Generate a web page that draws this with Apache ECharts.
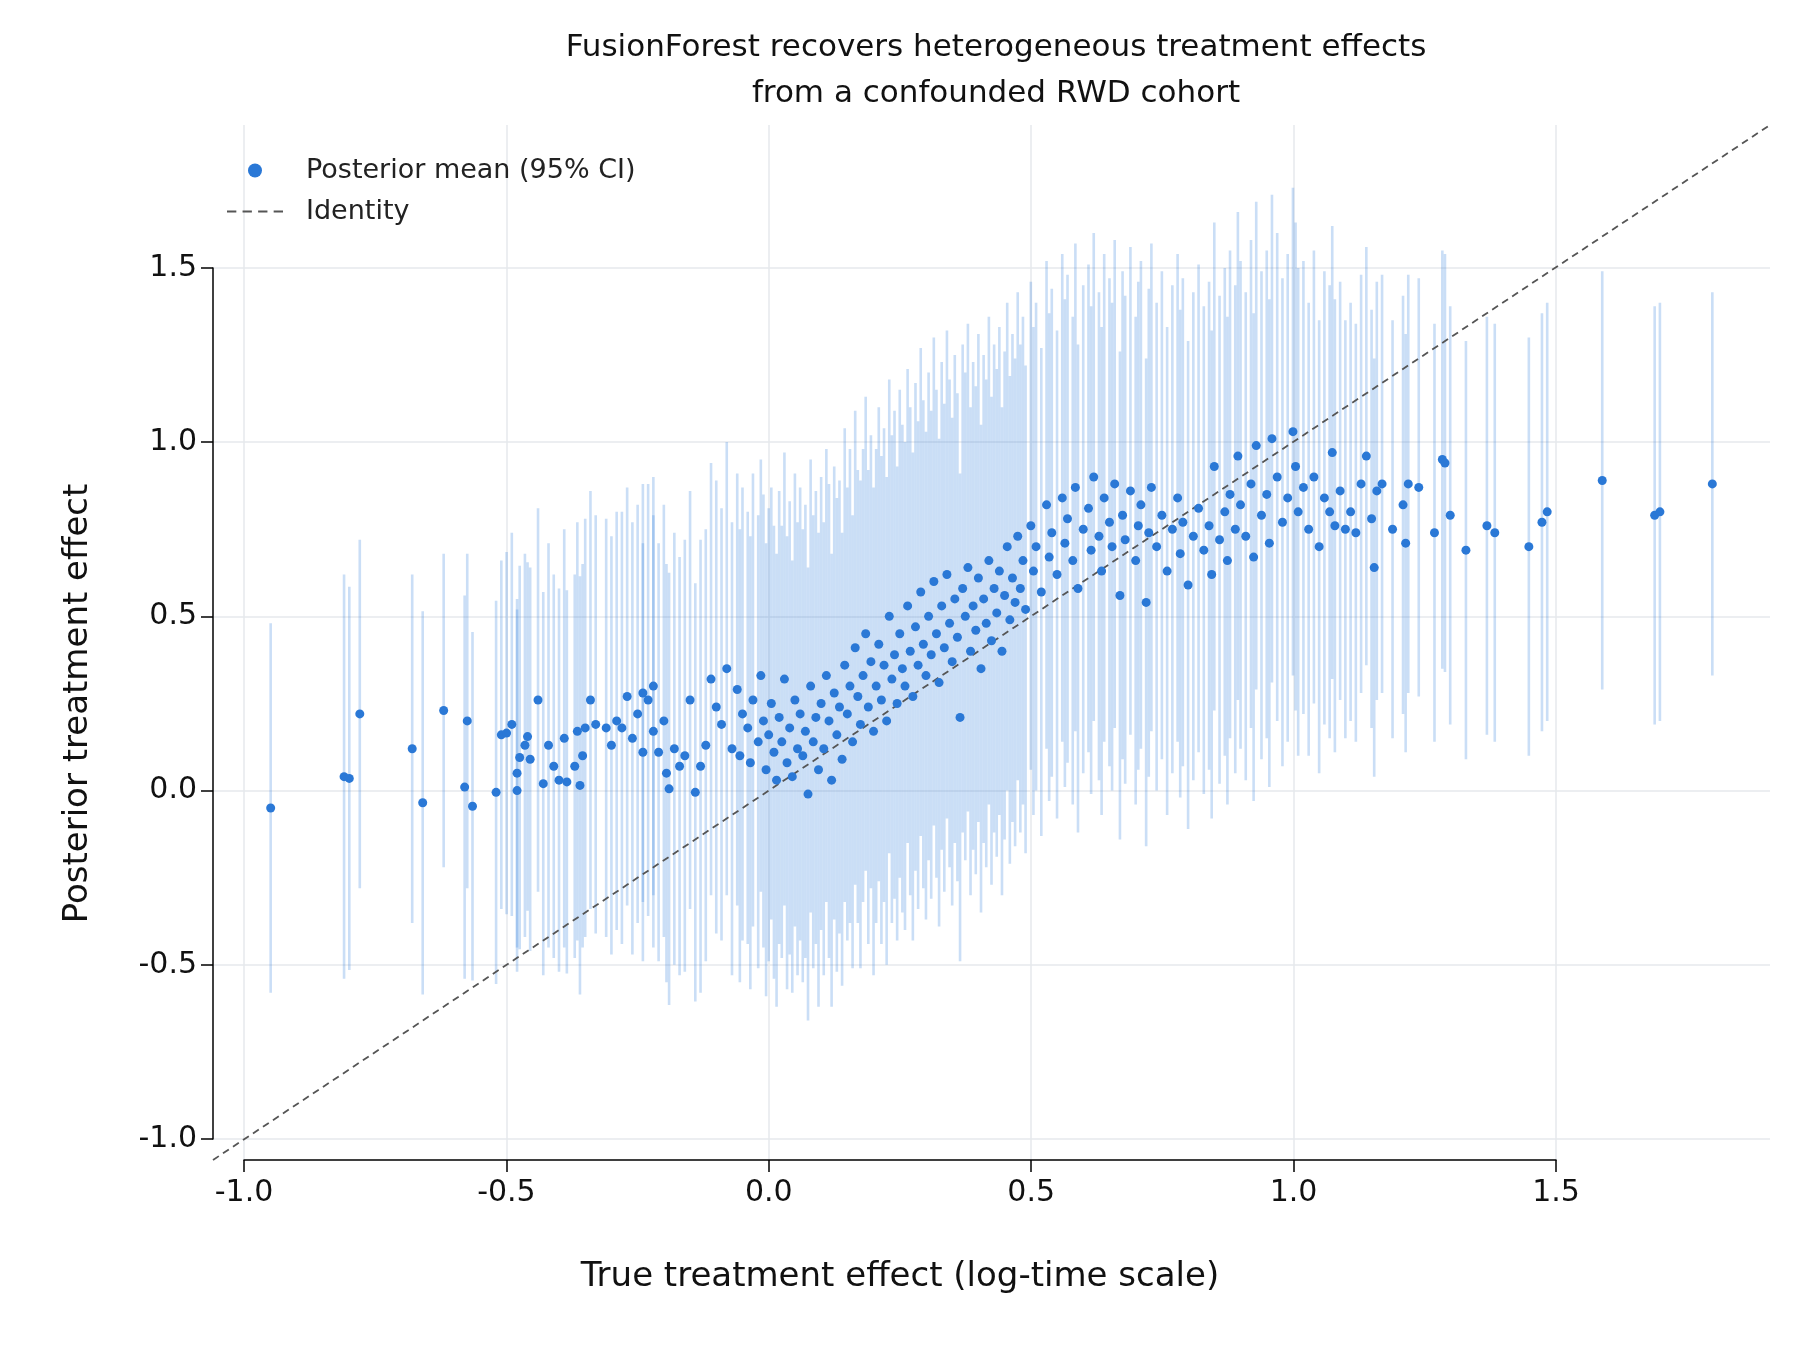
<!DOCTYPE html>
<html><head><meta charset="utf-8">
<script src="https://cdn.jsdelivr.net/npm/echarts@6/dist/echarts.min.js"></script>
<style>html,body{margin:0;padding:0;background:#fff}#c{width:1800px;height:1350px}</style>
</head><body><div id="c"></div>
<script>
const trueEffect = [
-0.95,-0.81,-0.80,-0.78,-0.68,-0.66,-0.62,-0.58,-0.575,-0.565,
-0.52,-0.51,-0.50,-0.49,-0.48,-0.48,-0.475,-0.465,-0.46,-0.455,
-0.44,-0.43,-0.42,-0.41,-0.40,-0.39,-0.385,-0.37,-0.365,-0.36,
-0.355,-0.35,-0.34,-0.33,-0.31,-0.30,-0.29,-0.28,-0.27,-0.26,
-0.25,-0.24,-0.24,-0.23,-0.22,-0.22,-0.21,-0.20,-0.195,-0.19,
-0.18,-0.17,-0.16,-0.15,-0.14,-0.13,-0.12,-0.11,-0.10,-0.09,
-0.08,-0.07,-0.06,-0.055,-0.05,-0.04,-0.035,-0.03,-0.02,-0.015,
-0.01,-0.005,0.0,0.005,0.01,0.015,0.02,0.025,0.03,0.035,
0.04,0.045,0.05,0.055,0.06,0.065,0.07,0.075,0.08,0.085,
0.09,0.095,0.10,0.105,0.11,0.115,0.12,0.125,0.13,0.135,
0.14,0.145,0.15,0.155,0.16,0.165,0.17,0.175,0.18,0.185,
0.19,0.195,0.20,0.205,0.21,0.215,0.22,0.225,0.23,0.235,
0.24,0.245,0.25,0.255,0.26,0.265,0.27,0.275,0.28,0.285,
0.29,0.295,0.30,0.305,0.31,0.315,0.32,0.325,0.33,0.335,
0.34,0.345,0.35,0.355,0.36,0.365,0.37,0.375,0.38,0.385,
0.39,0.395,0.40,0.405,0.41,0.415,0.42,0.425,0.43,0.435,
0.44,0.445,0.45,0.455,0.46,0.465,0.47,0.475,0.48,0.485,
0.49,0.50,0.505,0.51,0.52,0.53,0.535,0.54,0.55,0.56,
0.565,0.57,0.58,0.585,0.59,0.60,0.61,0.615,0.62,0.63,
0.635,0.64,0.65,0.655,0.66,0.67,0.675,0.68,0.69,0.70,
0.705,0.71,0.72,0.725,0.73,0.74,0.75,0.76,0.77,0.78,
0.785,0.79,0.80,0.81,0.82,0.83,0.84,0.845,0.85,0.86,
0.87,0.875,0.88,0.89,0.895,0.90,0.91,0.92,0.925,0.93,
0.94,0.95,0.955,0.96,0.97,0.98,0.99,1.0,1.005,1.01,
1.02,1.03,1.04,1.05,1.06,1.07,1.075,1.08,1.09,1.10,
1.11,1.12,1.13,1.14,1.15,1.155,1.16,1.17,1.19,1.21,
1.215,1.22,1.24,1.27,1.285,1.29,1.30,1.33,1.37,1.385,
1.45,1.475,1.485,1.59,1.69,1.70,1.80];
const posteriorMean = [
-0.05,0.04,0.035,0.22,0.12,-0.035,0.23,0.01,0.20,-0.045,
-0.005,0.16,0.165,0.19,0.05,0.0,0.095,0.13,0.155,0.09,
0.26,0.02,0.13,0.07,0.03,0.15,0.025,0.07,0.17,0.015,
0.10,0.18,0.26,0.19,0.18,0.13,0.20,0.18,0.27,0.15,
0.22,0.28,0.11,0.26,0.30,0.17,0.11,0.20,0.05,0.005,
0.12,0.07,0.10,0.26,-0.005,0.07,0.13,0.32,0.24,0.19,
0.35,0.12,0.29,0.10,0.22,0.18,0.08,0.26,0.14,0.33,
0.20,0.06,0.16,0.25,0.11,0.03,0.21,0.14,0.32,0.08,
0.18,0.04,0.26,0.12,0.22,0.10,0.17,-0.01,0.30,0.14,
0.21,0.06,0.25,0.12,0.33,0.20,0.03,0.28,0.16,0.24,
0.09,0.36,0.22,0.30,0.14,0.41,0.27,0.19,0.33,0.45,
0.24,0.37,0.17,0.30,0.42,0.26,0.36,0.20,0.50,0.32,
0.39,0.25,0.45,0.35,0.30,0.53,0.40,0.27,0.47,0.36,
0.57,0.42,0.33,0.50,0.39,0.60,0.45,0.31,0.53,0.41,
0.62,0.48,0.37,0.55,0.44,0.21,0.58,0.50,0.64,0.40,
0.53,0.46,0.61,0.35,0.55,0.48,0.66,0.43,0.58,0.51,
0.63,0.40,0.56,0.70,0.49,0.61,0.54,0.73,0.58,0.66,
0.52,0.76,0.63,0.70,0.57,0.82,0.67,0.74,0.62,0.84,
0.71,0.78,0.66,0.87,0.58,0.75,0.81,0.69,0.90,0.73,
0.63,0.84,0.77,0.70,0.88,0.56,0.79,0.72,0.86,0.66,
0.76,0.82,0.54,0.74,0.87,0.70,0.79,0.63,0.75,0.84,
0.68,0.77,0.59,0.73,0.81,0.69,0.76,0.62,0.93,0.72,
0.80,0.66,0.85,0.75,0.96,0.82,0.73,0.88,0.67,0.99,
0.79,0.85,0.71,1.01,0.90,0.77,0.84,1.03,0.93,0.80,
0.87,0.75,0.90,0.70,0.84,0.80,0.97,0.76,0.86,0.75,
0.80,0.74,0.88,0.96,0.78,0.64,0.86,0.88,0.75,0.82,
0.71,0.88,0.87,0.74,0.95,0.94,0.79,0.69,0.76,0.74,
0.70,0.77,0.80,0.89,0.79,0.80,0.88];
const ciHalfWidth = [
0.53,0.58,0.55,0.50,0.50,0.55,0.45,0.55,0.48,0.50,
0.55,0.50,0.52,0.55,0.50,0.52,0.55,0.55,0.50,0.55,
0.55,0.55,0.58,0.55,0.55,0.60,0.55,0.55,0.60,0.60,
0.55,0.60,0.60,0.60,0.60,0.60,0.60,0.62,0.60,0.62,
0.60,0.60,0.60,0.62,0.60,0.62,0.60,0.62,0.60,0.62,
0.62,0.60,0.62,0.60,0.60,0.65,0.62,0.62,0.65,0.62,
0.65,0.65,0.62,0.65,0.65,0.62,0.65,0.65,0.65,0.62,
0.65,0.65,0.65,0.62,0.65,0.65,0.65,0.62,0.65,0.65,
0.65,0.62,0.65,0.65,0.65,0.65,0.65,0.65,0.65,0.65,
0.65,0.68,0.65,0.65,0.65,0.68,0.65,0.65,0.68,0.65,
0.65,0.68,0.65,0.68,0.65,0.68,0.65,0.70,0.65,0.68,
0.68,0.65,0.70,0.68,0.68,0.70,0.68,0.70,0.68,0.70,
0.70,0.68,0.70,0.70,0.70,0.68,0.70,0.70,0.70,0.70,
0.70,0.70,0.70,0.70,0.70,0.70,0.70,0.70,0.70,0.70,
0.70,0.70,0.70,0.70,0.70,0.70,0.70,0.70,0.70,0.70,
0.70,0.70,0.70,0.70,0.70,0.70,0.70,0.70,0.70,0.70,
0.70,0.70,0.70,0.70,0.70,0.70,0.70,0.70,0.70,0.70,
0.70,0.70,0.70,0.70,0.70,0.70,0.70,0.70,0.70,0.70,
0.70,0.70,0.70,0.70,0.70,0.70,0.70,0.70,0.70,0.70,
0.70,0.70,0.70,0.70,0.70,0.70,0.70,0.70,0.70,0.70,
0.70,0.70,0.70,0.70,0.70,0.70,0.70,0.70,0.70,0.70,
0.70,0.70,0.70,0.70,0.70,0.70,0.70,0.70,0.70,0.70,
0.70,0.70,0.70,0.70,0.70,0.70,0.70,0.70,0.70,0.70,
0.70,0.70,0.70,0.70,0.70,0.70,0.70,0.70,0.70,0.70,
0.65,0.65,0.65,0.65,0.65,0.65,0.65,0.65,0.60,0.60,
0.60,0.60,0.60,0.60,0.60,0.60,0.60,0.60,0.60,0.60,
0.60,0.60,0.60,0.60,0.60,0.60,0.60,0.60,0.60,0.60,
0.60,0.60,0.60,0.60,0.60,0.60,0.55];
const xTicks = [-1.0,-0.5,0.0,0.5,1.0,1.5];
const yTicks = [-1.0,-0.5,0.0,0.5,1.0,1.5];
const plotRange = [-1.06, 1.91];

const pts = trueEffect.map((x,i)=>[x,posteriorMean[i]]);
const bars = trueEffect.map((x,i)=>[x,posteriorMean[i]-ciHalfWidth[i],posteriorMean[i]+ciHalfWidth[i]]);
const font = 'DejaVu Sans';
const fmt = v => v.toFixed(1);
const chart = echarts.init(document.getElementById('c'));
chart.setOption({
  animation:false,
  textStyle:{fontFamily:font},
  title:{text:'FusionForest recovers heterogeneous treatment effects\nfrom a confounded RWD cohort',left:991,top:20,textAlign:'center',
    textStyle:{fontFamily:font,fontSize:31,fontWeight:'normal',color:'#111',lineHeight:46}},
  legend:{left:222,top:152,orient:'vertical',itemGap:14,itemWidth:56,itemHeight:14,
    textStyle:{fontFamily:font,fontSize:27,color:'#222',padding:[0,0,0,18]},
    data:[{name:'Posterior mean (95% CI)',icon:'circle'},
          {name:'Identity',icon:'path://M0,6h9v2h-9zM15,6h9v2h-9zM30,6h9v2h-9zM45,6h9v2h-9z',itemStyle:{color:'#555'}}]},
  grid:[
    {left:213,right:30,top:125,bottom:190},
    {left:244,right:244,top:125,bottom:190},
    {left:213,right:30,top:268,bottom:211}
  ],
  xAxis:[
    {gridIndex:0,type:'value',min:plotRange[0],max:plotRange[1],show:false},
    {gridIndex:1,type:'value',min:xTicks[0],max:xTicks[xTicks.length-1],interval:0.5,
      axisLine:{show:true,onZero:false,lineStyle:{color:'#000',width:1.5}},
      axisTick:{show:true,length:12,lineStyle:{color:'#000',width:1.5}},
      axisLabel:{fontSize:30,color:'#111',margin:18,formatter:fmt},
      splitLine:{show:true,lineStyle:{color:'#e6e8ec',width:1.5}},
      name:'True treatment effect (log-time scale)',nameLocation:'middle',nameGap:100,
      nameTextStyle:{fontSize:34,color:'#111'}},
    {gridIndex:2,type:'value',min:plotRange[0],max:plotRange[1],show:false}
  ],
  yAxis:[
    {gridIndex:0,type:'value',min:plotRange[0],max:plotRange[1],show:false},
    {gridIndex:1,type:'value',min:plotRange[0],max:plotRange[1],show:false},
    {gridIndex:2,type:'value',min:yTicks[0],max:yTicks[yTicks.length-1],interval:0.5,
      axisLine:{show:true,onZero:false,lineStyle:{color:'#000',width:1.5}},
      axisTick:{show:true,length:12,lineStyle:{color:'#000',width:1.5}},
      axisLabel:{fontSize:30,color:'#111',margin:16,formatter:fmt},
      splitLine:{show:true,lineStyle:{color:'#e6e8ec',width:1.5}},
      name:'Posterior treatment effect',nameLocation:'middle',nameGap:118,
      nameTextStyle:{fontSize:34,color:'#111'}}
  ],
  series:[
    {type:'custom',xAxisIndex:0,yAxisIndex:0,data:bars,z:2,silent:true,
      renderItem:(params,api)=>{
        const a=api.coord([api.value(0),api.value(1)]), b=api.coord([api.value(0),api.value(2)]);
        return {type:'line',shape:{x1:a[0],y1:a[1],x2:b[0],y2:b[1]},
          style:{stroke:'rgba(45,122,220,0.25)',lineWidth:2.6}};
      }},
    {name:'Identity',type:'line',xAxisIndex:0,yAxisIndex:0,data:[[plotRange[0],plotRange[0]],[plotRange[1],plotRange[1]]],
      symbol:'none',z:3,lineStyle:{color:'#555',width:1.8,type:[7,5]},itemStyle:{color:'#555'}},
    {name:'Posterior mean (95% CI)',type:'scatter',xAxisIndex:0,yAxisIndex:0,data:pts,z:4,
      symbolSize:9,itemStyle:{color:'#2a78d6',opacity:1}}
  ]
});
</script></body></html>
